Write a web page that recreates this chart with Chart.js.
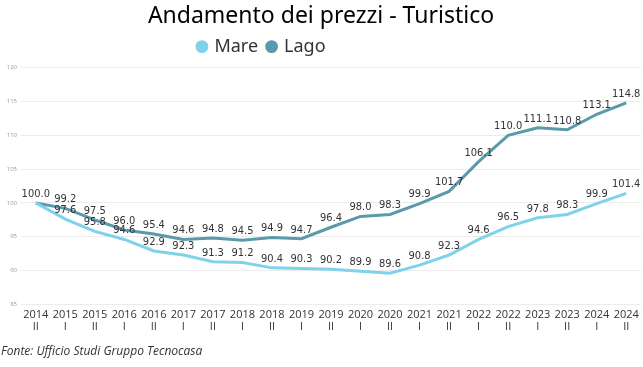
<!DOCTYPE html>
<html>
<head>
<meta charset="utf-8">
<script src="https://cdn.jsdelivr.net/npm/chart.js@4.4.0/dist/chart.umd.min.js"></script>
<style>
html,body{margin:0;padding:0;background:#fff;}
#wrap{width:643px;height:367px;position:relative;}
</style>
</head>
<body>
<div id="wrap"><canvas id="c" width="643" height="367"></canvas></div>
<script>
const years = ["2014","2015","2015","2016","2016","2017","2017","2018","2018","2019","2019","2020","2020","2021","2021","2022","2022","2023","2023","2024","2024"];
const semesters = ["II","I","II","I","II","I","II","I","II","I","II","I","II","I","II","I","II","I","II","I","II"];
const mare = [100.0,97.6,95.8,94.6,92.9,92.3,91.3,91.2,90.4,90.3,90.2,89.9,89.6,90.8,92.3,94.6,96.5,97.8,98.3,99.9,101.4];
const lago = [100.0,99.2,97.5,96.0,95.4,94.6,94.8,94.5,94.9,94.7,96.4,98.0,98.3,99.9,101.7,106.1,110.0,111.1,110.8,113.1,114.8];
const yTicks = [85,90,95,100,105,110,115,120];

const labels = years.map((y,i)=>[y, semesters[i]]);

const dataLabels = {
  id:'dataLabels',
  afterLayout(chart){
    const lg = chart.legend;
    if (lg) { lg.left -= 59; lg.right -= 59; lg.top -= 2; lg.bottom -= 2; }
  },
  afterDatasetsDraw(chart){
    const ctx = chart.ctx;
    ctx.save();
    ctx.font = '11px "Liberation Sans Narrow", "DejaVu Sans Condensed", "Roboto", sans-serif';
    ctx.fillStyle = '#333';
    ctx.textAlign = 'center';
    ctx.textBaseline = 'middle';
    chart.data.datasets.forEach((ds, di)=>{
      const meta = chart.getDatasetMeta(di);
      meta.data.forEach((pt, i)=>{
        if (di === 0 && i === 0) return;
        ctx.fillText(ds.data[i].toFixed(1), pt.x, pt.y - 9);
      });
    });
    ctx.restore();
  }
};

new Chart(document.getElementById('c'), {
  type:'line',
  data:{
    labels: labels,
    datasets:[
      {label:'Mare', data:mare, borderColor:'#80d2ea', backgroundColor:'#80d2ea', borderWidth:3, pointRadius:0, tension:0},
      {label:'Lago', data:lago, borderColor:'#5a9aaa', backgroundColor:'#5a9aaa', borderWidth:3, pointRadius:0, tension:0}
    ]
  },
  options:{
    responsive:false,
    animation:false,
    layout:{padding:{left:1,right:2,top:1,bottom:8}},
    plugins:{
      title:{display:true, text:'Andamento dei prezzi - Turistico', color:'#000',
        font:{family:'"Noto Sans", "Open Sans", sans-serif', size:23, weight:'normal'}, padding:{top:2,bottom:-1}},
      legend:{display:true, labels:{usePointStyle:true, pointStyle:'circle', boxWidth:7, boxHeight:7, padding:10, color:'#333',
        font:{family:'"Noto Sans", "Open Sans", sans-serif', size:18}}},
      subtitle:{display:true, position:'bottom', align:'start', text:'Fonte: Ufficio Studi Gruppo Tecnocasa', color:'#333',
        font:{family:'"Open Sans", "Noto Sans", sans-serif', size:12, style:'italic'}, padding:{top:8,bottom:0}},
      tooltip:{enabled:false}
    },
    scales:{
      x:{offset:true, grid:{display:false, drawTicks:false}, border:{display:false},
        ticks:{autoSkip:false, maxRotation:0, color:'#333', padding:4,
          font:{family:'"Open Sans", "Noto Sans", sans-serif', size:11, lineHeight:1.1}}},
      y:{min:85, max:120, border:{display:false}, grid:{color:'#ececec', drawTicks:false},
        afterBuildTicks(axis){ axis.ticks = yTicks.map(v=>({value:v})); },
        afterFit(axis){ axis.width = 20; },
        ticks:{color:'#999', padding:4, font:{family:'"Open Sans", sans-serif', size:6}}}
    }
  },
  plugins:[dataLabels]
});
</script>
</body>
</html>
